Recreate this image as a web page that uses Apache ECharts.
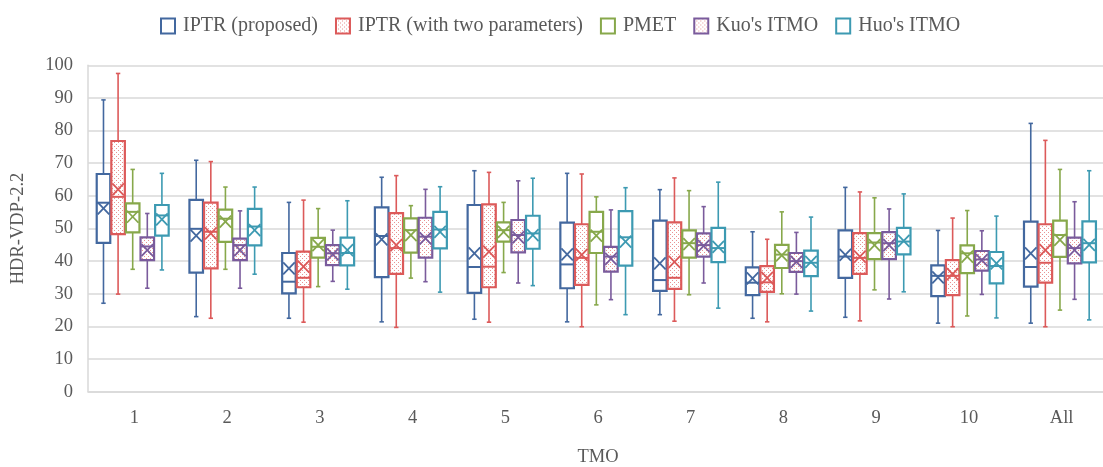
<!DOCTYPE html>
<html>
<head>
<meta charset="utf-8">
<script src="https://cdn.jsdelivr.net/npm/echarts@6/dist/echarts.min.js"></script>
<style>
  html, body { margin: 0; padding: 0; background: #fff; overflow: hidden; }
  #chart { position: fixed; left: 0; top: 0; width: 1103px; height: 467px; }
</style>
</head>
<body>
<div id="chart"></div>
<script>
// Categories (tone-mapping operators) and series names
const categories = ['1', '2', '3', '4', '5', '6', '7', '8', '9', '10', 'All'];
const seriesNames = ['IPTR (proposed)', 'IPTR (with two parameters)', 'PMET', "Kuo's ITMO", "Huo's ITMO"];
const yTicks = [0, 100, 10]; // min, max, interval

// Each row: [whisker min, Q1, median, Q3, whisker max, mean]
const iptrProposed = [
  [27.1, 45.6, 57.9, 66.7, 89.4, 56.2],
  [23.0, 36.5, 49.9, 58.8, 70.9, 47.8],
  [22.5, 30.1, 33.7, 42.5, 58.0, 37.8],
  [21.4, 35.1, 47.7, 56.5, 65.7, 46.7],
  [22.2, 30.3, 38.2, 57.2, 67.7, 42.4],
  [21.4, 31.7, 39.0, 51.8, 66.9, 42.1],
  [23.6, 30.9, 34.2, 52.4, 61.9, 39.3],
  [22.5, 29.6, 33.4, 38.1, 49.0, 34.7],
  [22.8, 34.9, 41.4, 49.4, 62.6, 41.9],
  [21.0, 29.3, 35.5, 38.7, 49.4, 35.0],
  [21.0, 32.2, 38.2, 52.1, 82.2, 42.4]
];
const iptrTwoParams = [
  [29.9, 48.3, 59.7, 76.8, 97.5, 62.0],
  [22.5, 37.8, 49.0, 57.9, 70.5, 48.5],
  [21.3, 32.0, 34.9, 42.9, 58.7, 38.3],
  [19.7, 36.1, 44.0, 54.7, 66.2, 44.9],
  [21.3, 32.0, 38.3, 57.4, 67.2, 42.9],
  [19.9, 32.7, 41.0, 51.3, 66.7, 41.9],
  [21.6, 31.5, 34.9, 51.9, 65.5, 39.8],
  [21.4, 30.6, 33.5, 38.5, 46.7, 34.9],
  [21.7, 36.1, 41.0, 48.6, 61.2, 41.4],
  [19.9, 29.6, 35.5, 40.3, 53.2, 36.0],
  [19.9, 33.4, 39.5, 51.3, 77.0, 43.4]
];
const pmet = [
  [37.5, 48.8, 55.1, 57.7, 68.1, 53.6],
  [37.5, 45.9, 53.0, 55.8, 62.7, 52.1],
  [32.2, 41.1, 44.4, 47.1, 56.1, 44.9],
  [34.8, 42.6, 49.5, 53.1, 57.0, 48.0],
  [36.5, 46.0, 49.5, 51.9, 58.0, 49.0],
  [26.6, 42.5, 49.0, 55.1, 59.7, 47.8],
  [29.7, 41.1, 45.5, 49.4, 61.6, 45.2],
  [30.0, 37.9, 42.0, 45.0, 55.1, 41.8],
  [31.2, 40.6, 45.7, 48.6, 59.4, 44.9],
  [23.2, 36.3, 42.4, 44.8, 55.5, 41.4],
  [25.0, 41.3, 48.0, 52.4, 68.1, 46.5]
];
const kuoItmo = [
  [31.7, 40.3, 44.5, 47.3, 54.6, 43.4],
  [31.7, 40.3, 44.9, 46.9, 55.4, 43.4],
  [33.8, 38.8, 42.4, 44.9, 49.5, 42.1],
  [33.7, 41.1, 47.5, 53.3, 62.0, 47.0],
  [33.3, 42.7, 48.0, 52.6, 64.6, 47.3],
  [28.2, 36.8, 41.4, 44.4, 55.7, 40.7],
  [33.3, 41.4, 44.9, 48.5, 56.7, 44.7],
  [29.9, 36.7, 40.0, 42.5, 48.8, 39.8],
  [28.4, 40.6, 45.5, 48.9, 56.0, 44.9],
  [29.8, 37.1, 40.5, 43.1, 49.3, 40.3],
  [28.3, 39.3, 44.0, 47.2, 58.2, 43.4]
];
const huoItmo = [
  [37.3, 47.8, 54.0, 57.2, 66.9, 52.8],
  [36.0, 44.8, 50.6, 56.0, 62.7, 49.5],
  [31.4, 38.7, 42.5, 47.2, 58.5, 43.4],
  [30.5, 43.9, 49.7, 55.1, 62.8, 49.0],
  [32.5, 43.8, 48.5, 53.9, 65.4, 48.0],
  [23.6, 38.6, 47.3, 55.3, 62.5, 46.0],
  [25.6, 39.7, 44.0, 50.2, 64.2, 44.4],
  [24.7, 35.4, 39.5, 43.2, 53.5, 39.8],
  [30.6, 42.1, 46.0, 50.2, 60.6, 46.2],
  [22.6, 33.2, 38.5, 42.8, 53.8, 39.3],
  [22.0, 39.6, 45.5, 52.2, 67.7, 45.0]
];

const allStats = [iptrProposed, iptrTwoParams, pmet, kuoItmo, huoItmo];
const colors = ['#43689f', '#dc5a5a', '#87a84b', '#7a5b9c', '#3d9ab2'];
const dotted = [false, true, false, true, false];

// Light red stipple used for the dotted boxes
function makeDotPattern() {
  const c = document.createElement('canvas');
  c.width = 4; c.height = 4;
  const ctx = c.getContext('2d');
  ctx.fillStyle = '#ffffff';
  ctx.fillRect(0, 0, 4, 4);
  ctx.fillStyle = 'rgba(226,110,110,0.75)';
  ctx.fillRect(0, 0, 1, 1);
  ctx.fillRect(2, 2, 1, 1);
  return { image: c, repeat: 'repeat' };
}
const dotPattern = makeDotPattern();

// Draws one box: whiskers with caps, Q1–Q3 box, median line and an X at the mean
function boxRenderer(k) {
  return function (params, api) {
    const cat = api.value(0);
    const vMin = api.value(1), q1 = api.value(2), med = api.value(3),
          q3 = api.value(4), vMax = api.value(5), mean = api.value(6);
    const band = api.size([1, 0])[0];
    const pitch = band * 0.1575;
    const bw = band * 0.146;
    const cx = api.coord([cat, 0])[0] + (k - 2) * pitch - band * 0.018;
    const yMin = api.coord([cat, vMin])[1];
    const yQ1 = api.coord([cat, q1])[1];
    const yMed = api.coord([cat, med])[1];
    const yQ3 = api.coord([cat, q3])[1];
    const yMax = api.coord([cat, vMax])[1];
    const yMean = api.coord([cat, mean])[1];
    const col = colors[k];
    const wStyle = { stroke: col, lineWidth: 1.6 };
    const capW = 2.2;
    const xh = 6;
    const x0 = cx - bw / 2, x1 = cx + bw / 2;
    return {
      type: 'group',
      children: [
        { type: 'line', shape: { x1: cx, y1: yMax, x2: cx, y2: yQ3 }, style: wStyle },
        { type: 'line', shape: { x1: cx, y1: yQ1, x2: cx, y2: yMin }, style: wStyle },
        { type: 'line', shape: { x1: cx - capW, y1: yMax, x2: cx + capW, y2: yMax }, style: wStyle },
        { type: 'line', shape: { x1: cx - capW, y1: yMin, x2: cx + capW, y2: yMin }, style: wStyle },
        {
          type: 'rect',
          shape: { x: x0, y: yQ3, width: bw, height: yQ1 - yQ3 },
          style: { fill: dotted[k] ? dotPattern : '#ffffff', stroke: col, lineWidth: 2.2 }
        },
        { type: 'line', shape: { x1: x0, y1: yMed, x2: x1, y2: yMed }, style: { stroke: col, lineWidth: 2 } },
        { type: 'line', shape: { x1: x0 + 1, y1: yMean - xh, x2: x1 - 1, y2: yMean + xh }, style: { stroke: col, lineWidth: 1.8 } },
        { type: 'line', shape: { x1: x0 + 1, y1: yMean + xh, x2: x1 - 1, y2: yMean - xh }, style: { stroke: col, lineWidth: 1.8 } }
      ]
    };
  };
}

const font = "'Liberation Serif', 'Times New Roman', serif";
const textColor = '#595959';

const series = allStats.map((rows, k) => ({
  name: seriesNames[k],
  type: 'custom',
  renderItem: boxRenderer(k),
  itemStyle: { color: colors[k] },
  encode: { x: 0, y: [1, 2, 3, 4, 5, 6] },
  data: rows.map((r, i) => [i].concat(r)),
  z: 3
}));

const chart = echarts.init(document.getElementById('chart'), null, { renderer: 'canvas' });
chart.setOption({
  animation: false,
  backgroundColor: '#ffffff',
  textStyle: { fontFamily: font, color: textColor },
  legend: {
    top: 11,
    left: 155,
    itemWidth: 14,
    itemHeight: 15,
    itemGap: 17,
    icon: 'rect',
    textStyle: { fontFamily: font, fontSize: 20, color: textColor, padding: [0, 0, 0, 3] },
    data: seriesNames.map((n, k) => ({
      name: n,
      itemStyle: {
        color: dotted[k] ? dotPattern : '#ffffff',
        borderColor: colors[k],
        borderWidth: 2
      }
    }))
  },
  grid: {
    left: 88, top: 65.3, width: 1020, height: 326.4,
    containLabel: false,
    outerBoundsMode: 'none'
  },
  xAxis: {
    type: 'category',
    data: categories,
    name: 'TMO',
    nameLocation: 'middle',
    nameGap: 56,
    nameTextStyle: { fontFamily: font, fontSize: 18.5, color: textColor },
    axisLine: { show: true, lineStyle: { color: '#d9d9d9', width: 1.5 } },
    axisTick: { show: false },
    axisLabel: { fontFamily: font, fontSize: 18.5, color: textColor, margin: 17 },
    splitLine: { show: false }
  },
  yAxis: {
    type: 'value',
    min: yTicks[0],
    max: yTicks[1],
    interval: yTicks[2],
    name: 'HDR-VDP-2.2',
    nameLocation: 'middle',
    nameRotate: 90,
    nameGap: 60,
    nameTextStyle: { fontFamily: font, fontSize: 18.5, color: textColor },
    axisLine: { show: true, lineStyle: { color: '#d9d9d9', width: 1.5 } },
    axisTick: { show: false },
    axisLabel: { fontFamily: font, fontSize: 18.5, color: textColor, margin: 15 },
    splitLine: { show: true, lineStyle: { color: '#d9d9d9', width: 1.5 } }
  },
  series: series
});
</script>
</body>
</html>
